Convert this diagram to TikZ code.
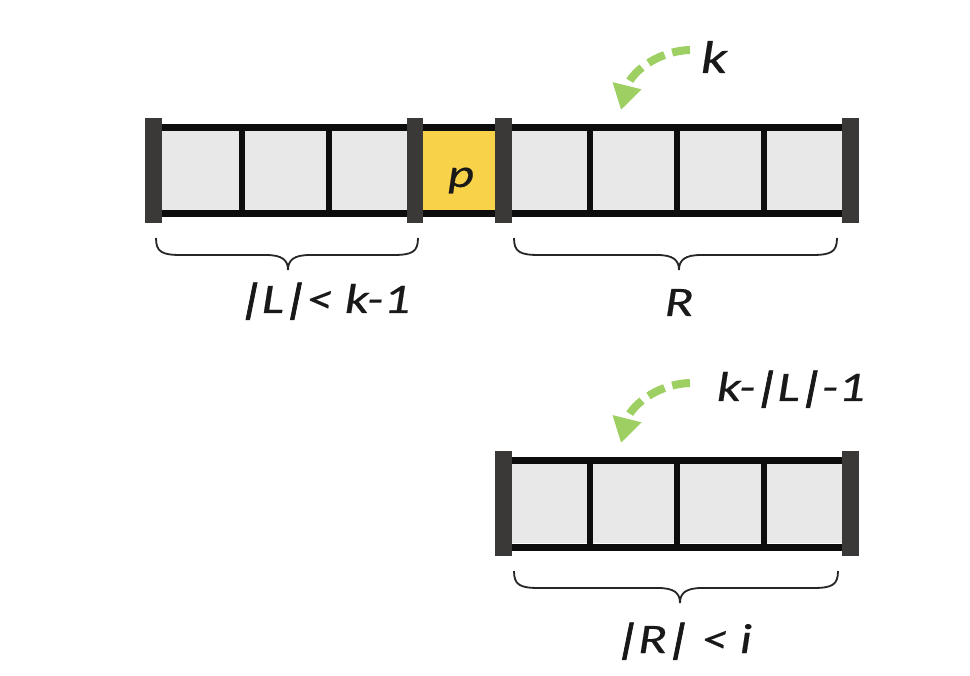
\documentclass[tikz,border=0pt]{standalone}
\usepackage{fontspec}
\usepackage{graphicx}
\setmainfont{Carlito}[ItalicFeatures={FakeBold=0.35}]
\newfontfamily\barfont{Carlito}[FakeSlant=0.16,FakeBold=1.6]
\usetikzlibrary{arrows.meta}
\definecolor{cellgray}{HTML}{E8E8E8}
\definecolor{bargray}{HTML}{3A3937}
\definecolor{pyellow}{HTML}{F8D34A}
\definecolor{kgreen}{HTML}{9DCF62}
\newcommand{\vb}{{\barfont\kern-1pt|\kern-1pt}}
\newcommand{\wide}[1]{\scalebox{1.27}[1]{#1}}
\tikzset{
  cell/.style={fill=cellgray,draw=none},
  pcell/.style={fill=pyellow,draw=none},
  rail/.style={line width=7pt,draw=black!95},
  divider/.style={line width=6pt,draw=black!95},
  endbar/.style={fill=bargray,draw=none},
  bracestyle/.style={line width=1.8pt,draw=black!85},
  lbl/.style={font=\fontsize{42}{50}\selectfont\itshape,text=black!90,inner sep=0pt,anchor=base},
  garrow/.style={draw=kgreen,line width=8pt,dash pattern=on 18pt off 8pt,
    -{Triangle[length=25pt,width=28pt]}},
}
\newcommand{\mybrace}[4]{% x1, x2, top y, tip x
  \draw[bracestyle] (#1,#3) .. controls (#1,#3+14) and (#1+6,#3+17) .. (#1+25,#3+17)
    -- (#4-22,#3+17) .. controls (#4-6,#3+17) and (#4,#3+22) .. (#4,#3+32)
    .. controls (#4,#3+22) and (#4+6,#3+17) .. (#4+22,#3+17)
    -- (#2-25,#3+17) .. controls (#2-6,#3+17) and (#2,#3+14) .. (#2,#3);}
\begin{document}
\begin{tikzpicture}[x=1pt,y=-1pt]
\useasboundingbox[fill=white] (0,0) rectangle (970,676);
% ---------- top array ----------
\fill[cell] (162,131) rectangle (407,211);
\fill[pcell] (423,131) rectangle (495,211);
\fill[cell] (512,131) rectangle (842,211);
\draw[rail] (150,127.5) -- (855,127.5);
\draw[rail] (150,214) -- (855,214);
\foreach \x in {242,329,590,677,764} \draw[divider] (\x,127.5) -- (\x,214);
\foreach \a/\b in {145/162,407/423,495/512,842/859} \fill[endbar] (\a,118) rectangle (\b,223);
\node[lbl,font=\fontsize{40}{46}\selectfont\itshape] (p) at (461,187) {\wide{p}};
% ---------- bottom array ----------
\fill[cell] (512,463) rectangle (842,543);
\draw[rail] (500,460) -- (855,460);
\draw[rail] (500,547) -- (855,547);
\foreach \x in {590,677,764} \draw[divider] (\x,460) -- (\x,547);
\foreach \a/\b in {495/512,842/859} \fill[endbar] (\a,451) rectangle (\b,556);
% ---------- braces ----------
\mybrace{156}{418}{238}{288}
\mybrace{514}{837}{238}{679}
\mybrace{514}{838}{571}{680}
% ---------- labels ----------
\node[lbl] (lab1) at (325,313) {\wide{\vb L\vb< k-1}};
\node[lbl] (lab2) at (679,316) {\wide{R}};
\node[lbl] (lab3) at (684,653) {\wide{\vb R\vb\ < i}};
\node[lbl,font=\fontsize{46}{54}\selectfont\itshape] (klab) at (714,73) {\wide{k}};
\node[lbl] (klab2) at (791,401) {\wide{k-\vb L\vb-1}};
% ---------- arrows ----------
\coordinate (ks1) at (690,50);
\coordinate (kt1) at (621,110);
\coordinate (ks2) at (690,383);
\coordinate (kt2) at (621,443);
\draw[garrow] (ks1) to[out=182,in=76] (kt1);
\draw[garrow] (ks2) to[out=182,in=76] (kt2);
\end{tikzpicture}
\end{document}
